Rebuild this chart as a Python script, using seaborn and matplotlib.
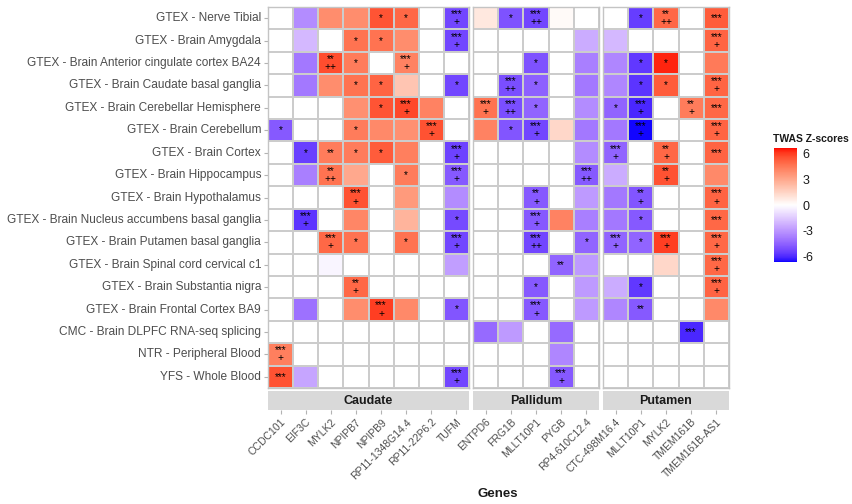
import numpy as np
import pandas as pd
import seaborn as sns
import matplotlib.pyplot as plt
from matplotlib.colors import ListedColormap

n = np.nan

tissues = ["GTEX - Nerve Tibial", "GTEX - Brain Amygdala",
           "GTEX - Brain Anterior cingulate cortex BA24", "GTEX - Brain Caudate basal ganglia",
           "GTEX - Brain Cerebellar Hemisphere", "GTEX - Brain Cerebellum", "GTEX - Brain Cortex",
           "GTEX - Brain Hippocampus", "GTEX - Brain Hypothalamus",
           "GTEX - Brain Nucleus accumbens basal ganglia", "GTEX - Brain Putamen basal ganglia",
           "GTEX - Brain Spinal cord cervical c1", "GTEX - Brain Substantia nigra",
           "GTEX - Brain Frontal Cortex BA9", "CMC - Brain DLPFC RNA-seq splicing",
           "NTR - Peripheral Blood", "YFS - Whole Blood"]

caudate_genes = ["CCDC101", "EIF3C", "MYLK2", "NPIPB7", "NPIPB9", "RP11-1348G14.4", "RP11-22P6.2", "TUFM"]
pallidum_genes = ["ENTPD6", "FRG1B", "MLLT10P1", "PYGB", "RP4-610C12.4"]
putamen_genes = ["CTC-498M16.4", "MLLT10P1", "MYLK2", "TMEM161B", "TMEM161B-AS1"]

caudate_z = [
    [n, -3.3, 3.9, 3.9, 5.5, 5.0, n, -5.3],
    [n, -2.0, n, 4.7, 4.7, 3.9, n, -5.3],
    [n, -3.9, 5.7, 4.4, n, 4.2, n, n],
    [n, -3.9, 3.9, 4.7, 5.1, 2.0, n, -5.3],
    [n, n, n, 3.8, 5.5, 5.8, 4.2, n],
    [-4.8, n, n, 4.4, 4.0, 3.8, 5.6, n],
    [n, -5.5, 4.4, 4.4, 5.3, 4.3, n, -5.4],
    [n, -3.7, 4.7, 3.0, n, 4.4, n, -4.8],
    [n, n, n, 5.6, n, 3.5, n, -3.3],
    [n, -5.8, n, 4.1, n, 2.6, n, -5.2],
    [n, n, 5.0, 4.7, n, 4.7, n, -5.3],
    [n, n, -0.3, n, n, n, n, -2.8],
    [n, n, n, 5.0, n, n, n, n],
    [n, -4.1, n, 3.9, 6.0, 4.0, n, -4.9],
    [n, n, n, n, n, n, n, n],
    [4.3, n, n, n, n, n, n, n],
    [5.6, -2.6, n, n, n, n, n, -5.3]]
caudate_sig = [
    ["", "", "", "", "*", "*", "", "***\n+"],
    ["", "", "", "*", "*", "", "", "***\n+"],
    ["", "", "**\n++", "*", "", "***\n+", "", ""],
    ["", "", "", "*", "*", "", "", "*"],
    ["", "", "", "", "*", "***\n+", "", ""],
    ["*", "", "", "*", "", "", "***\n+", ""],
    ["", "*", "**", "*", "*", "", "", "***\n+"],
    ["", "", "**\n++", "", "", "*", "", "***\n+"],
    ["", "", "", "***\n+", "", "", "", ""],
    ["", "***\n+", "", "", "", "", "", "*"],
    ["", "", "***\n+", "*", "", "*", "", "***\n+"],
    ["", "", "", "", "", "", "", ""],
    ["", "", "", "**\n+", "", "", "", ""],
    ["", "", "", "", "***\n+", "", "", "*"],
    ["", "", "", "", "", "", "", ""],
    ["***\n+", "", "", "", "", "", "", ""],
    ["***", "", "", "", "", "", "", "***\n+"]]

pallidum_z = [
    [0.8, -5.0, -5.3, 0.2, n],
    [n, n, n, n, -2.4],
    [n, n, -5.0, n, -3.7],
    [n, -5.1, -4.6, n, -3.9],
    [4.7, -5.1, -4.5, n, -3.3],
    [4.2, -4.9, -5.3, 1.4, -3.9],
    [n, n, n, n, -3.3],
    [n, n, n, n, -4.8],
    [n, n, -4.8, n, -2.9],
    [n, n, -4.8, 4.2, -3.7],
    [n, n, -5.3, n, -4.5],
    [n, n, n, -4.5, -2.9],
    [n, n, -4.8, n, -2.9],
    [n, n, -4.8, n, -2.9],
    [-4.3, -2.9, n, -4.3, n],
    [n, n, n, -3.5, n],
    [n, n, n, -4.8, n]]
pallidum_sig = [
    ["", "*", "***\n++", "", ""],
    ["", "", "", "", ""],
    ["", "", "*", "", ""],
    ["", "***\n++", "*", "", ""],
    ["***\n+", "***\n++", "*", "", ""],
    ["", "*", "***\n+", "", ""],
    ["", "", "", "", ""],
    ["", "", "", "", "***\n++"],
    ["", "", "**\n+", "", ""],
    ["", "", "***\n+", "", ""],
    ["", "", "***\n++", "", "*"],
    ["", "", "", "**", ""],
    ["", "", "*", "", ""],
    ["", "", "***\n+", "", ""],
    ["", "", "", "", ""],
    ["", "", "", "", ""],
    ["", "", "", "***\n+", ""]]

putamen_z = [
    [n, -5.6, 5.0, n, 5.3],
    [-2.0, n, n, n, 5.1],
    [-3.5, -5.7, 6.4, n, 4.5],
    [-3.5, -5.8, 5.3, n, 5.1],
    [-4.5, -6.1, n, 4.4, 5.0],
    [-3.9, -6.6, n, n, 5.1],
    [-4.5, n, 5.0, n, 5.1],
    [-2.4, n, 5.6, n, 4.0],
    [-3.9, -4.9, n, n, 5.1],
    [-3.9, -4.8, n, n, 5.0],
    [-4.5, -4.5, 6.0, n, 5.0],
    [n, n, 1.4, n, 5.0],
    [-2.4, -5.7, n, n, 5.1],
    [-3.5, -4.8, n, n, 4.0],
    [n, n, n, -6.1, n],
    [n, n, n, n, n],
    [n, n, n, n, n]]
putamen_sig = [
    ["", "*", "**\n++", "", "***"],
    ["", "", "", "", "***\n+"],
    ["", "*", "*", "", ""],
    ["", "*", "*", "", "***\n+"],
    ["*", "***\n+", "", "**\n+", "***"],
    ["", "***\n+", "", "", "***\n+"],
    ["***\n+", "", "**\n+", "", "***"],
    ["", "", "**\n+", "", ""],
    ["", "**\n+", "", "", "***\n+"],
    ["", "*", "", "", "***"],
    ["***\n+", "*", "***\n+", "", "***\n+"],
    ["", "", "", "", "***\n+"],
    ["", "*", "", "", "***\n+"],
    ["", "**", "", "", ""],
    ["", "", "", "***", ""],
    ["", "", "", "", ""],
    ["", "", "", "", ""]]

# blue - white - red gradient interpolated in Lab space (like ggplot's gradient2)
M = np.array([[0.4124, 0.3576, 0.1805], [0.2126, 0.7152, 0.0722], [0.0193, 0.1192, 0.9505]])
WP = np.array([0.95047, 1.0, 1.08883])

def to_lab(rgb):
    c = np.asarray(rgb, float)
    c = np.where(c <= 0.04045, c / 12.92, ((c + 0.055) / 1.055) ** 2.4)
    xyz = M @ c / WP
    f = np.where(xyz > 0.008856, np.cbrt(xyz), 7.787 * xyz + 16 / 116)
    return np.array([116 * f[1] - 16, 500 * (f[0] - f[1]), 200 * (f[1] - f[2])])

def from_lab(lab):
    fy = (lab[0] + 16) / 116
    f = np.array([fy + lab[1] / 500, fy, fy - lab[2] / 200])
    xyz = np.where(f ** 3 > 0.008856, f ** 3, (f - 16 / 116) / 7.787) * WP
    c = np.linalg.solve(M, xyz)
    c = np.clip(c, 0, None)
    c = np.where(c <= 0.0031308, 12.92 * c, 1.055 * c ** (1 / 2.4) - 0.055)
    return np.clip(c, 0, 1)

lab_w, lab_b, lab_r = to_lab([1, 1, 1]), to_lab([0, 0, 1]), to_lab([1, 0, 0])
cols = []
for t in np.linspace(-1, 1, 256):
    end = lab_b if t < 0 else lab_r
    cols.append(from_lab(lab_w + abs(t) * (end - lab_w)))
cmap = ListedColormap(cols)
cmap.set_bad("white")
zmax = 6.7

sns.set_theme(style="white")
plt.rcParams["font.family"] = ["Liberation Sans", "DejaVu Sans"]
plt.rcParams["axes.unicode_minus"] = False

W, H = 853, 504
def box(x0, y0, x1, y1):
    return [x0 / W, 1 - y1 / H, (x1 - x0) / W, (y1 - y0) / H]

fig = plt.figure(figsize=(W / 100, H / 100), dpi=100)

panels = [("Caudate", caudate_genes, caudate_z, caudate_sig, 268, 469),
          ("Pallidum", pallidum_genes, pallidum_z, pallidum_sig, 473, 599),
          ("Putamen", putamen_genes, putamen_z, putamen_sig, 603, 729)]

cax = fig.add_axes(box(774, 148, 797, 262))

for i, (name, genes, z, sig, x0, x1) in enumerate(panels):
    ax = fig.add_axes(box(x0, 7, x1, 388))
    df = pd.DataFrame(z, index=tissues, columns=genes)
    last = i == len(panels) - 1
    sns.heatmap(df, ax=ax, cmap=cmap, vmin=-zmax, vmax=zmax, linewidths=1.3, linecolor="#cccccc",
                annot=np.array(sig), fmt="", annot_kws={"color": "black", "fontsize": 7.3, "linespacing": 0.75},
                cbar=last, cbar_ax=cax if last else None,
                cbar_kws={"ticks": [-6, -3, 0, 3, 6]} if last else None)
    ax.set_xticks([])
    ax.set_xlabel("")
    ax.set_ylabel("")
    if i == 0:
        ax.set_yticklabels(tissues, rotation=0, fontsize=8.6, color="#4d4d4d")
        ax.tick_params(axis="y", left=True, length=3, width=0.8, color="#b3b3b3", pad=2)
    else:
        ax.set_yticks([])
    for sp in ax.spines.values():
        sp.set_visible(True)
        sp.set_color("#c4c4c4")
        sp.set_linewidth(1)
    if last:
        cbar = ax.collections[0].colorbar

    # facet strip below the panel, gene ticks under it
    sax = fig.add_axes(box(x0, 391, x1, 410))
    sax.set_facecolor("#d9d9d9")
    sax.set_xlim(0, len(genes))
    sax.set_ylim(0, 1)
    sax.set_yticks([])
    sax.set_xticks(np.arange(len(genes)) + 0.5)
    sax.set_xticklabels(genes, rotation=45, ha="right", rotation_mode="anchor",
                        fontsize=7.5, color="#4d4d4d")
    sax.tick_params(axis="x", bottom=True, length=3, width=0.8, color="#b3b3b3", pad=2)
    for sp in sax.spines.values():
        sp.set_visible(False)
    sax.text(0.5, 0.5, name, transform=sax.transAxes, ha="center", va="center",
             fontsize=9, fontweight="bold", color="#1a1a1a")

cbar.outline.set_visible(False)
cax.tick_params(axis="y", left=True, right=True, labelleft=False, labelright=True,
                direction="in", length=4, width=0.8, color="white", labelsize=9,
                labelcolor="#1a1a1a", pad=4)
fig.text(773 / W, 1 - 139 / H, "TWAS Z-scores", ha="left", va="center",
         fontsize=7.5, fontweight="bold", color="#1a1a1a")

fig.text(498 / W, 1 - 494 / H, "Genes", ha="center", va="center",
         fontsize=9.5, fontweight="bold", color="#1a1a1a")

fig.savefig("out.png", dpi=100)
